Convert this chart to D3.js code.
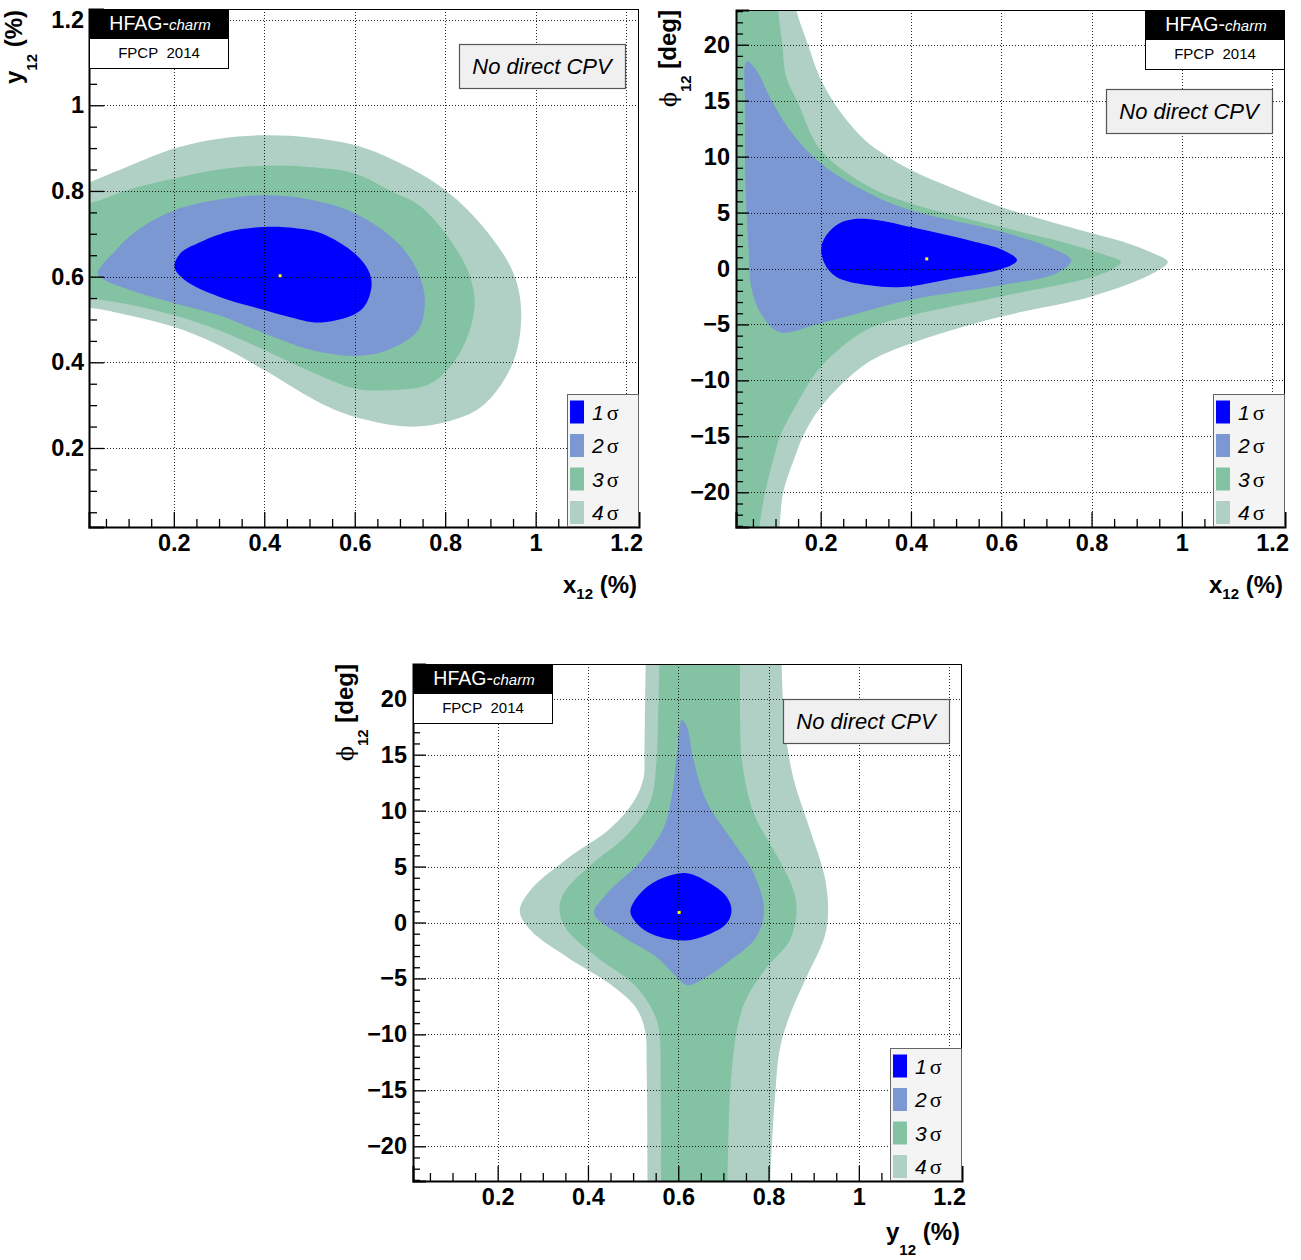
<!DOCTYPE html>
<html><head><meta charset="utf-8">
<script src="https://cdn.jsdelivr.net/npm/d3@7"></script>
<style>body{margin:0;background:#fff;} svg{display:block;font-family:"Liberation Sans",Arial,sans-serif;}</style>
</head><body><svg id="c" width="1301" height="1260"></svg>
<script>
// ---------- data ----------
const levelNums = ["1","2","3","4"];
const levelColors = ["#0000ff","#7b98d2","#83c3a4","#b0d0c6"];
const pctTicks = [0.2,0.4,0.6,0.8,1.0,1.2];
const pctTickLabels = ["0.2","0.4","0.6","0.8","1","1.2"];
const pctMinor = [0.05,0.1,0.15,0.25,0.3,0.35,0.45,0.5,0.55,0.65,0.7,0.75,0.85,0.9,0.95,1.05,1.1,1.15];
const phiTicks = [-20,-15,-10,-5,0,5,10,15,20];
const phiTickLabels = ["\u221220","\u221215","\u221210","\u22125","0","5","10","15","20"];
const phiMinor = [-23,-22,-21,-19,-18,-17,-16,-14,-13,-12,-11,-9,-8,-7,-6,-4,-3,-2,-1,1,2,3,4,6,7,8,9,11,12,13,14,16,17,18,19,21,22,23];
const pctDomain = [0.0125,1.2285];
const y12Domain = [0.0156,1.2247];
const phiDomain = [-23.1,23.1];

// x12 vs y12 contours (x12 %, y12 %)
const xy4 = [[-0.03,0.80],[0.016,0.821],[0.083,0.85],[0.2,0.899],[0.30,0.922],[0.40,0.930],[0.50,0.925],[0.60,0.907],[0.70,0.865],[0.80,0.802],[0.895,0.702],[0.954,0.60],[0.968,0.499],[0.946,0.39],[0.88,0.296],[0.80,0.260],[0.718,0.25],[0.60,0.273],[0.526,0.304],[0.40,0.382],[0.30,0.44],[0.2,0.483],[0.1,0.51],[0.016,0.527],[-0.03,0.525],[-0.06,0.66]];
const xy3 = [[-0.03,0.765],[0.016,0.772],[0.1,0.803],[0.2,0.829],[0.30,0.85],[0.40,0.859],[0.50,0.856],[0.60,0.841],[0.68,0.80],[0.747,0.763],[0.821,0.67],[0.855,0.60],[0.865,0.53],[0.836,0.429],[0.769,0.351],[0.673,0.335],[0.60,0.339],[0.50,0.38],[0.40,0.429],[0.30,0.475],[0.2,0.51],[0.1,0.535],[0.016,0.549],[-0.03,0.552],[-0.06,0.66]];
const xy2 = [[0.032,0.608],[0.07,0.66],[0.12,0.709],[0.2015,0.755],[0.30,0.78],[0.40,0.79],[0.50,0.78],[0.60,0.748],[0.696,0.678],[0.74,0.61],[0.755,0.545],[0.74,0.475],[0.673,0.429],[0.60,0.415],[0.50,0.43],[0.40,0.468],[0.30,0.51],[0.2015,0.538],[0.1,0.57],[0.047,0.592]];
const xy1 = [[0.2015,0.623],[0.215,0.655],[0.253,0.678],[0.32,0.705],[0.40,0.716],[0.47,0.713],[0.526,0.701],[0.60,0.654],[0.63,0.615],[0.637,0.576],[0.614,0.522],[0.526,0.493],[0.455,0.506],[0.40,0.522],[0.30,0.553],[0.224,0.592]];
const xyBest = [0.435,0.602];

// x12 vs phi12 contours (x12 %, phi12 deg)
const xphi4 = [[-0.05,26],[0.135,26],[0.146,23.1],[0.172,20],[0.198,17.1],[0.227,15],[0.257,13.3],[0.30,11.4],[0.345,10.1],[0.40,8.8],[0.485,7.3],[0.60,5.5],[0.751,3.7],[0.884,2.2],[0.94,1.3],[0.969,0.6],[0.935,-0.45],[0.80,-2.5],[0.60,-4.3],[0.40,-6.7],[0.301,-8.5],[0.20,-12.4],[0.161,-15],[0.146,-16.5],[0.117,-20],[0.109,-23],[0.10,-26],[-0.05,-26]];
const xphi3 = [[-0.05,26],[0.102,26],[0.106,23.1],[0.115,20],[0.124,17.1],[0.148,15],[0.20,10.6],[0.308,7.3],[0.40,5.8],[0.60,3.7],[0.751,2.2],[0.83,1.2],[0.865,0.6],[0.825,-0.45],[0.60,-2.5],[0.40,-4.2],[0.301,-5.5],[0.20,-8.8],[0.139,-12.7],[0.11,-15],[0.095,-17.1],[0.077,-20],[0.065,-23],[0.06,-26],[-0.05,-26]];
const xphi2 = [[0.036,18.5],[0.058,17.7],[0.087,15.35],[0.131,12.4],[0.20,9.4],[0.308,6.7],[0.40,5.2],[0.60,3.3],[0.70,2.0],[0.755,0.74],[0.721,-0.45],[0.60,-1.5],[0.40,-2.8],[0.20,-4.9],[0.109,-5.7],[0.072,-4.3],[0.048,-2],[0.04,2],[0.033,8.2],[0.033,14]];
const xphi1 = [[0.2015,1.93],[0.215,3.1],[0.24,4.0],[0.272,4.4],[0.33,4.3],[0.40,3.7],[0.53,2.5],[0.604,1.64],[0.635,0.74],[0.604,0.0],[0.493,-0.9],[0.382,-1.65],[0.308,-1.5],[0.235,-0.75],[0.208,0.5]];
const xphiBest = [0.435,0.86];

// y12 vs phi12 contours (y12 %, phi12 deg)
const yphi4 = [[0.53,26],[0.528,23.1],[0.526,18],[0.525,15.1],[0.523,12.9],[0.501,10.8],[0.449,8.4],[0.354,5.7],[0.273,2.9],[0.249,1.0],[0.273,-0.7],[0.354,-3.1],[0.449,-5.5],[0.508,-7.7],[0.527,-9.8],[0.530,-12.8],[0.532,-23],[0.532,-26],[0.804,-26],[0.804,-23],[0.810,-18],[0.814,-15.8],[0.825,-11.3],[0.847,-8.3],[0.884,-4.9],[0.924,-1.3],[0.932,1.0],[0.924,4.15],[0.891,8.4],[0.855,12.9],[0.836,17.5],[0.829,23.1],[0.829,26]];
const yphi3 = [[0.558,26],[0.558,23.1],[0.555,18],[0.552,14.5],[0.538,10.8],[0.486,7.8],[0.405,5.1],[0.346,2.6],[0.337,1.0],[0.354,-0.7],[0.42,-3.1],[0.501,-5.5],[0.545,-8.0],[0.558,-9.8],[0.561,-14],[0.562,-23],[0.562,-26],[0.709,-26],[0.709,-23],[0.712,-18],[0.714,-15.8],[0.729,-9.8],[0.751,-6.8],[0.796,-4.0],[0.847,-1.6],[0.862,1.0],[0.855,2.9],[0.818,6.0],[0.766,9.9],[0.741,14.5],[0.737,18],[0.737,23.1],[0.737,26]];
const yphi2 = [[0.608,18.1],[0.619,17.5],[0.634,14.5],[0.663,10.8],[0.722,7.2],[0.766,4.5],[0.790,1.1],[0.773,-1.3],[0.715,-3.4],[0.648,-5.2],[0.619,-5.6],[0.597,-4.9],[0.552,-3.1],[0.479,-1.3],[0.414,0.8],[0.442,2.6],[0.516,5.4],[0.567,8.4],[0.586,11.4],[0.597,15.1]];
const yphi1 = [[0.494,1.0],[0.523,2.9],[0.567,4.0],[0.619,4.4],[0.670,3.5],[0.707,2.3],[0.718,1.1],[0.707,-0.1],[0.663,-1.15],[0.619,-1.6],[0.560,-1.3],[0.516,-0.4]];
const yphiBest = [0.602,0.9];

// ---------- drawing ----------
const svg = d3.select("#c");
const panels = [
  {id:"p1", left:89, top:9, w:550, h:518, yd:y12Domain, yTicks:pctTicks, yLabels:pctTickLabels, yMinor:pctMinor,
   contours:[xy4,xy3,xy2,xy1], best:xyBest, hfagRight:false, cpvTop:35, yKind:"pct", xVar:"x"},
  {id:"p2", left:736, top:10, w:549, h:517, yd:phiDomain, yTicks:phiTicks, yLabels:phiTickLabels, yMinor:phiMinor,
   contours:[xphi4,xphi3,xphi2,xphi1], best:xphiBest, hfagRight:true, cpvTop:79, yKind:"phi", xVar:"x"},
  {id:"p3", left:413, top:664, w:549, h:517, yd:phiDomain, yTicks:phiTicks, yLabels:phiTickLabels, yMinor:phiMinor,
   contours:[yphi4,yphi3,yphi2,yphi1], best:yphiBest, hfagRight:false, cpvTop:35, yKind:"phi", xVar:"y"}
];

panels.forEach(p => {
  const x = d3.scaleLinear().domain(pctDomain).range([0,p.w]);
  const y = d3.scaleLinear().domain(p.yd).range([p.h,0]);
  const g = svg.append("g").attr("transform",`translate(${p.left},${p.top})`);
  g.append("clipPath").attr("id","clip-"+p.id).append("rect").attr("width",p.w).attr("height",p.h);
  const body = g.append("g").attr("clip-path",`url(#clip-${p.id})`);
  const line = d3.line().x(d=>x(d[0])).y(d=>y(d[1])).curve(d3.curveCatmullRomClosed.alpha(0.5));
  p.contours.forEach((c,i) => {
    body.append("path").attr("d",line(c)).attr("fill",levelColors[3-i]).attr("stroke","none");
  });
  // grid
  const grid = body.append("g").attr("stroke","#000").attr("stroke-width",1).attr("stroke-dasharray","1,2").attr("opacity",0.85);
  pctTicks.forEach(t => grid.append("line").attr("x1",Math.round(x(t))+0.5).attr("x2",Math.round(x(t))+0.5).attr("y1",0).attr("y2",p.h));
  p.yTicks.forEach(t => grid.append("line").attr("y1",Math.round(y(t))+0.5).attr("y2",Math.round(y(t))+0.5).attr("x1",0).attr("x2",p.w));
  // best fit
  body.append("rect").attr("x",x(p.best[0])-1.5).attr("y",y(p.best[1])-1.5).attr("width",3).attr("height",3).attr("fill","#ffff00");

  // axes
  const majLen = 15, minLenX = 8, minLenY = p.yKind==="phi" ? 7 : 8, majLenY = p.yKind==="phi" ? 13 : 15;
  g.append("g").attr("transform",`translate(0,${p.h})`)
    .call(d3.axisBottom(x).tickValues(pctTicks).tickFormat((d,i)=>pctTickLabels[i]).tickSize(-majLen).tickPadding(7));
  g.append("g").attr("transform",`translate(0,${p.h})`)
    .call(d3.axisBottom(x).tickValues(pctMinor).tickFormat("").tickSize(-minLenX)).select(".domain").remove();
  g.append("g")
    .call(d3.axisLeft(y).tickValues(p.yTicks).tickFormat((d,i)=>p.yLabels[i]).tickSize(-majLenY).tickPadding(p.yKind==="phi"?6:5));
  g.append("g").call(d3.axisLeft(y).tickValues(p.yMinor).tickFormat("").tickSize(-minLenY)).select(".domain").remove();
  g.selectAll(".domain").attr("stroke","#000").attr("stroke-width",2);
  g.selectAll(".tick line").attr("stroke","#000").attr("stroke-width",1.3);
  g.selectAll(".tick text").attr("font-family","'Liberation Sans',Arial,sans-serif").attr("font-size",23.5).attr("font-weight","bold").attr("fill","#000");
  // top & right frame
  g.append("line").attr("x1",0).attr("x2",p.w).attr("y1",0.5).attr("y2",0.5).attr("stroke","#000").attr("stroke-width",1);
  g.append("line").attr("x1",p.w-0.5).attr("x2",p.w-0.5).attr("y1",0).attr("y2",p.h).attr("stroke","#000").attr("stroke-width",1);

  // HFAG box
  const hx = p.hfagRight ? p.w-140 : 0;
  g.append("rect").attr("x",hx).attr("y",0).attr("width",140).attr("height",29).attr("fill","#000");
  const ht = g.append("text").attr("x",hx+71).attr("y",21).attr("text-anchor","middle").attr("fill","#fff");
  ht.append("tspan").attr("font-size",19.5).text("HFAG-");
  ht.append("tspan").attr("font-size",15).attr("font-style","italic").text("charm");
  g.append("rect").attr("x",hx+0.5).attr("y",29.5).attr("width",139).attr("height",30).attr("fill","#fff").attr("stroke","#000").attr("stroke-width",1);
  g.append("text").attr("x",hx+70).attr("y",49).attr("text-anchor","middle").attr("font-size",15).text("FPCP\u00a0\u00a02014");

  // No direct CPV box
  g.append("rect").attr("x",370.5).attr("y",p.cpvTop+0.5).attr("width",166).attr("height",44).attr("fill","#f0f0f0").attr("stroke","#555").attr("stroke-width",1.2);
  g.append("text").attr("x",453).attr("y",p.cpvTop+30).attr("text-anchor","middle").attr("font-size",22).attr("font-style","italic").text("No direct CPV");

  // legend
  const lx = p.w-72, ly = p.h-133;
  g.append("rect").attr("x",lx+0.5).attr("y",ly+0.5).attr("width",71).attr("height",132).attr("fill","#f4f4f4").attr("stroke","#666").attr("stroke-width",1);
  levelNums.forEach((n,i) => {
    const cy = ly + 18 + i*33.5;
    g.append("rect").attr("x",lx+3).attr("y",cy-11.5).attr("width",14).attr("height",23).attr("fill",levelColors[i]);
    const t = g.append("text").attr("x",lx+25).attr("y",cy+7.5).attr("font-size",21);
    t.append("tspan").attr("font-style","italic").text(n);
    t.append("tspan").attr("dx",3).attr("font-family","'Liberation Serif','Times New Roman',serif").attr("font-size",22).text("σ");
  });

  // x title
  if (p.xVar === "x") {
    const t = g.append("text").attr("x",p.w-2).attr("y",p.h+66).attr("text-anchor","end").attr("font-weight","bold").attr("font-size",24);
    t.append("tspan").text("x");
    t.append("tspan").attr("font-size",15).attr("dy",6).text("12");
    t.append("tspan").attr("dy",-6).text("\u00a0(%)");
  } else {
    const t = g.append("text").attr("x",p.w-2).attr("y",p.h+59).attr("text-anchor","end").attr("font-weight","bold").attr("font-size",24);
    t.append("tspan").text("y");
    t.append("tspan").attr("font-size",15).attr("dy",15).text("12");
    t.append("tspan").attr("dy",-15).text("\u00a0(%)");
  }
  // y title
  if (p.yKind === "pct") {
    const t = g.append("text").attr("transform",`translate(${-67},1) rotate(-90)`).attr("text-anchor","end").attr("font-weight","bold").attr("font-size",24);
    t.append("tspan").text("y");
    t.append("tspan").attr("font-size",15).attr("dy",15).text("12");
    t.append("tspan").attr("dy",-15).text("\u00a0(%)");
  } else {
    const t = g.append("text").attr("transform",`translate(${-60},0) rotate(-90)`).attr("text-anchor","end").attr("font-size",24);
    t.append("tspan").attr("font-size",22).attr("font-family","'DejaVu Serif','Liberation Serif',serif").text("\u03d5");
    t.append("tspan").attr("font-size",15).attr("font-weight","bold").attr("dy",15).text("12");
    t.append("tspan").attr("dy",-15).attr("font-weight","bold").text("\u00a0[deg]");
  }
});
</script>
</body></html>
